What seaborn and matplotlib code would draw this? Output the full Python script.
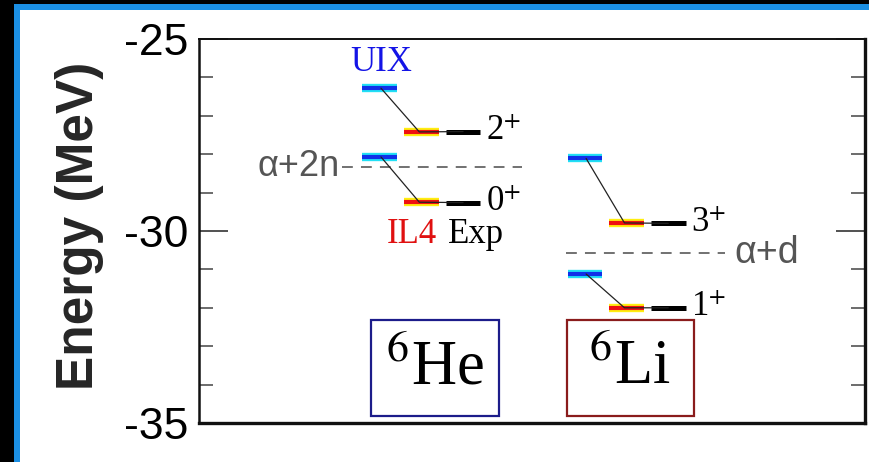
import numpy as np
import pandas as pd
import matplotlib
matplotlib.use("Agg")
import matplotlib.pyplot as plt
import seaborn as sns
from matplotlib.patches import Rectangle

# ---------------- data ----------------
nuclei = ["$^{6}$He", "$^{6}$Li"]
nucleus_base = [0.0, 4.92]
box_colors = ["#1c1c8a", "#8a1c1c"]
states = ["2$^{+}$", "0$^{+}$", "3$^{+}$", "1$^{+}$"]
state_nucleus = [0, 0, 1, 1]
uix = [-26.28, -28.07, -28.11, -31.12]
il4 = [-27.42, -29.25, -29.79, -32.00]
exp = [-27.41, -29.26, -29.80, -32.00]
thresholds = ["α+2n", "α+d"]
threshold_E = [-28.33, -30.58]
methods = ["UIX", "IL4", "Exp"]
yticks = [-25, -30, -35]

sns.set_theme(style="ticks")
plt.rcParams["mathtext.fontset"] = "stix"
plt.rcParams["axes.unicode_minus"] = False
plt.rcParams["font.family"] = ["Liberation Sans", "DejaVu Sans"]

W, H = 869, 462
fig = plt.figure(figsize=(W / 100, H / 100), dpi=100, facecolor="black")

# slide-like panel
fig.add_artist(Rectangle((14 / W, -0.05), 1.1, (H - 4) / H + 0.05, transform=fig.transFigure,
                         facecolor="#1b8fe3", edgecolor="none", zorder=-10))
fig.add_artist(Rectangle((20 / W, -0.05), 1.1, (H - 10) / H + 0.05, transform=fig.transFigure,
                         facecolor="white", edgecolor="none", zorder=-9))

ax = fig.add_axes([199 / W, 1 - 423 / H, 666 / W, 384 / H])
ax.set_facecolor("none")
ax.set_xlim(-4.333, 11.638)
ax.set_ylim(-35, -25)

half = 0.415
# build level segments
rows = []
seg = 0
for i, n in enumerate(state_nucleus):
    b = nucleus_base[n]
    for j, (m, vals) in enumerate(zip(methods, [uix, il4, exp])):
        for x in (b + j - half, b + j + half):
            rows.append(dict(seg=seg, method=m, x=x, E=vals[i]))
        seg += 1
lev = pd.DataFrame(rows)

styles = {
    "UIX": [("#22e0f5", 6.0), ("#1030e8", 3.0)],
    "IL4": [("#ffee10", 6.0), ("#ee1010", 3.0)],
    "Exp": [("black", 3.6)],
}
for m in methods:
    d = lev[lev.method == m]
    for k, (c, lw) in enumerate(styles[m]):
        sns.lineplot(data=d, x="x", y="E", units="seg", estimator=None, sort=False,
                     color=c, lw=lw, solid_capstyle="butt", ax=ax, legend=False,
                     zorder=3 + k)

# connectors
crow = []
for i, n in enumerate(state_nucleus):
    b = nucleus_base[n]
    crow += [dict(c=i, x=b + 0.03, E=uix[i]), dict(c=i, x=b + 0.95, E=il4[i]),
             dict(c=i, x=b + 2.0, E=exp[i])]
con = pd.DataFrame(crow)
sns.lineplot(data=con, x="x", y="E", units="c", estimator=None, sort=False,
             color="#222222", lw=0.9, ax=ax, legend=False, zorder=6)

# state labels
for i, n in enumerate(state_nucleus):
    b = nucleus_base[n]
    ax.text(b + 2.55, exp[i] - 0.22, states[i], fontsize=25, va="baseline", ha="left",
            family=["Liberation Serif"], color="black")

# thresholds
th_span = [(-0.9, 3.41), (-0.45, 3.36)]
for k, (name, e) in enumerate(zip(thresholds, threshold_E)):
    b = nucleus_base[k]
    x0, x1 = th_span[k]
    ax.plot([b + x0, b + x1], [e, e], color="#666666", lw=1.3, ls=(0, (6, 4.5)), zorder=2)
    if k == 0:
        ax.text(b + x0 - 0.05, e, name, ha="right", va="center", fontsize=26, color="#555555")
    else:
        ax.text(b + x1 + 0.22, e, name, ha="left", va="center", fontsize=27, color="#555555")

# method labels
ax.text(0.03, -25.62, "UIX", color="#1414e6", fontsize=25, ha="center", va="center",
        family=["Liberation Serif"])
ax.text(0.77, -30.31, "IL4", color="#e01010", fontsize=25, ha="center", va="baseline",
        family=["Liberation Serif"])
ax.text(2.32, -30.31, "Exp", color="black", fontsize=25, ha="center", va="baseline",
        family=["Liberation Serif"])

# nucleus boxes
box_x = [(-0.2, 2.86), (-0.44, 2.62)]
for k, name in enumerate(nuclei):
    b = nucleus_base[k]
    x0, x1 = box_x[k]
    ax.add_patch(Rectangle((b + x0, -34.81), x1 - x0, 2.49, fill=False,
                           edgecolor=box_colors[k], lw=1.6, zorder=4))
    ax.text(b + (x0 + x1) / 2, -33.6, name, fontsize=45, ha="center", va="center",
            family=["Liberation Serif"], color="black")

# axes styling
ax.set_xticks([])
ax.set_yticks(yticks)
ax.set_yticklabels([str(t) for t in yticks])
ax.set_yticks(np.arange(-35, -24), minor=True)
ax.tick_params(axis="y", which="major", direction="in", length=21, width=1.1,
               right=True, left=True, labelsize=32, pad=8, colors="#222222",
               labelcolor="black")
ax.tick_params(axis="y", which="minor", direction="in", length=10, width=1.1,
               right=True, left=True, colors="#444444")
for s, lw in zip(["left", "right", "top", "bottom"], [1.8, 2.4, 1.4, 2.4]):
    ax.spines[s].set_visible(True)
    ax.spines[s].set_linewidth(lw)
    ax.spines[s].set_color("#111111")
ax.set_xlabel("")
ax.set_ylabel("Energy (MeV)", fontsize=37, fontweight="bold")
ax.yaxis.set_label_coords(-0.143, 0.513)

fig.savefig("out.png", dpi=100, facecolor=fig.get_facecolor())
